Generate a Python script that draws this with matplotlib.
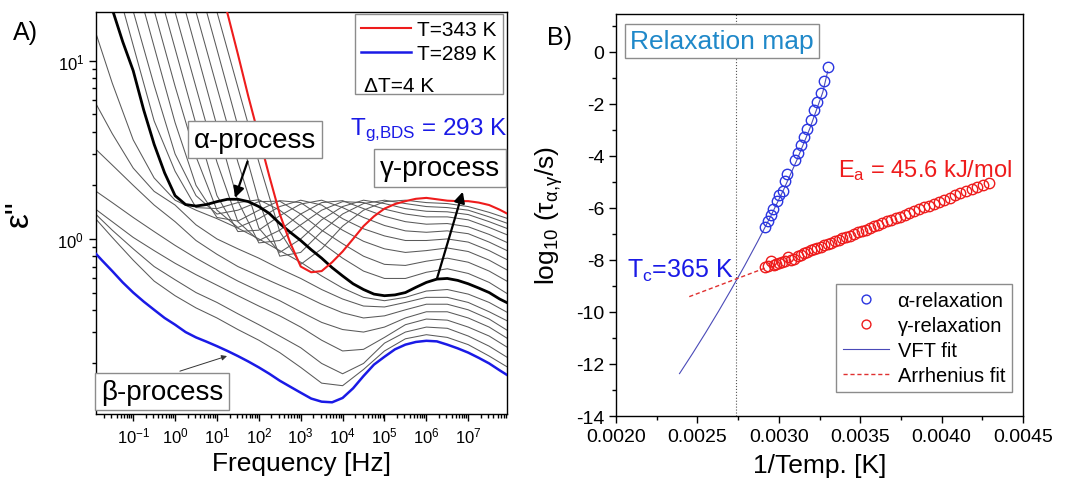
"""Dielectric loss spectra (A) and relaxation map (B)."""
import numpy as np
import matplotlib

matplotlib.use("Agg")
import matplotlib.pyplot as plt  # noqa: E402

plt.rcParams["font.family"] = ["Liberation Sans", "DejaVu Sans"]
plt.rcParams["mathtext.fontset"] = "custom"
plt.rcParams["mathtext.rm"] = "Liberation Sans"
plt.rcParams["mathtext.it"] = "Liberation Sans:italic"
plt.rcParams["mathtext.bf"] = "Liberation Sans:bold"
plt.rcParams["mathtext.default"] = "regular"
plt.rcParams["axes.unicode_minus"] = False

nan = np.nan

# ---- panel A: eps'' spectra ------------------------------------------------
# main curves, quarter-decade sampling
freq_fine = [1e-2, 1.78e-2, 3.16e-2, 5.62e-2, 1e-1, 1.78e-1, 3.16e-1, 5.62e-1,
             1e0, 1.78e0, 3.16e0, 5.62e0, 1e1, 1.78e1, 3.16e1, 5.62e1,
             1e2, 1.78e2, 3.16e2, 5.62e2, 1e3, 1.78e3, 3.16e3, 5.62e3,
             1e4, 1.78e4, 3.16e4, 5.62e4, 1e5, 1.78e5, 3.16e5, 5.62e5,
             1e6, 1.78e6, 3.16e6, 5.62e6, 1e7, 1.78e7, 3.16e7, 5.62e7, 1e8]

eps_289 = [0.88, 0.76, 0.66, 0.57, 0.50, 0.445, 0.40, 0.36,
           0.33, 0.30, 0.28, 0.265, 0.25, 0.235, 0.22, 0.205,
           0.19, 0.175, 0.16, 0.148, 0.137, 0.127, 0.122, 0.121,
           0.128, 0.145, 0.17, 0.197, 0.218, 0.24, 0.255, 0.264,
           0.268, 0.266, 0.255, 0.243, 0.23, 0.215, 0.20, 0.183, 0.168]
eps_tg = [60, 30, 19.5, 12.8, 8.8, 5.3, 3.4, 2.35,
          1.75, 1.56, 1.53, 1.56, 1.62, 1.67, 1.67, 1.62,
          1.52, 1.39, 1.22, 1.09, 0.98, 0.87, 0.78, 0.69,
          0.62, 0.56, 0.52, 0.49, 0.48, 0.485, 0.50, 0.535,
          0.57, 0.595, 0.60, 0.585, 0.56, 0.53, 0.50, 0.46, 0.43]
eps_343 = [nan, nan, nan, nan, nan, nan, nan, nan,
           nan, nan, nan, nan, 31.6, 18.5, 10.9, 6.3,
           3.77, 2.25, 1.38, 0.95, 0.70, 0.65, 0.66, 0.74,
           0.85, 1.00, 1.18, 1.34, 1.48, 1.57, 1.63, 1.68,
           1.70, 1.67, 1.64, 1.63, 1.63, 1.60, 1.55, 1.46, 1.36]

# intermediate temperatures, half-decade sampling
freq_hz = [1.26e-2, 3.16e-2, 1e-1, 3.16e-1, 1e0, 3.16e0, 1e1, 3.16e1, 1e2, 3.16e2,
           1e3, 3.16e3, 1e4, 3.16e4, 1e5, 3.16e5, 1e6, 3.16e6, 1e7, 3.16e7, 8.9e7]

eps_c7 = [1.30, 1.02, 0.76, 0.58, 0.48, 0.41, 0.36, 0.31, 0.27, 0.23, 0.19,
          0.155, 0.15, 0.185, 0.235, 0.275, 0.29, 0.28, 0.255, 0.22, 0.19]
eps_c6 = [1.38, 1.12, 0.88, 0.70, 0.59, 0.50, 0.44, 0.38, 0.33, 0.285, 0.245,
          0.20, 0.175, 0.20, 0.26, 0.30, 0.32, 0.315, 0.285, 0.25, 0.215]
eps_c5 = [1.47, 1.25, 1.02, 0.86, 0.73, 0.63, 0.55, 0.48, 0.42, 0.37, 0.32,
          0.27, 0.235, 0.24, 0.28, 0.33, 0.355, 0.35, 0.32, 0.285, 0.245]
eps_c4 = [1.86, 1.60, 1.32, 1.10, 0.92, 0.78, 0.67, 0.58, 0.51, 0.45, 0.39,
          0.34, 0.31, 0.30, 0.32, 0.36, 0.39, 0.39, 0.36, 0.32, 0.275]
eps_c3 = [3.2, 2.6, 2.0, 1.55, 1.25, 0.98, 0.82, 0.70, 0.62, 0.55, 0.49,
          0.43, 0.385, 0.36, 0.37, 0.40, 0.43, 0.43, 0.40, 0.355, 0.305]
eps_c2 = [5.8, 3.9, 2.5, 1.85, 1.55, 1.20, 1.00, 0.88, 0.78, 0.68, 0.60,
          0.52, 0.46, 0.42, 0.415, 0.44, 0.47, 0.47, 0.44, 0.39, 0.345]
eps_c1 = [14.5, 7.5, 3.6, 2.2, 1.65, 1.45, 1.30, 1.15, 1.00, 0.86, 0.74,
          0.62, 0.53, 0.47, 0.45, 0.47, 0.51, 0.52, 0.49, 0.44, 0.385]
eps_h1 = [71, 32.6, 12.2, 4.6, 2.4, 1.50, 1.48, 1.60, 1.66, 1.45, 1.18,
          0.95, 0.78, 0.66, 0.60, 0.60, 0.65, 0.68, 0.64, 0.57, 0.49]
eps_h2 = [100, 45, 19.0, 7.3, 3.0, 1.75, 1.38, 1.45, 1.62, 1.63, 1.38,
          1.12, 0.94, 0.80, 0.72, 0.71, 0.75, 0.78, 0.74, 0.66, 0.575]
eps_h3 = [nan, 85, 32, 12.0, 4.5, 2.0, 1.32, 1.26, 1.45, 1.64, 1.60,
          1.33, 1.12, 0.97, 0.88, 0.84, 0.86, 0.89, 0.85, 0.76, 0.665]
eps_h4 = [nan, 135, 51, 19.2, 7.2, 2.9, 1.45, 1.16, 1.30, 1.52, 1.65,
          1.55, 1.30, 1.14, 1.04, 0.98, 0.98, 1.00, 0.96, 0.86, 0.76]
eps_h5 = [nan, nan, 84, 31, 11.7, 4.4, 1.75, 1.10, 1.12, 1.35, 1.57,
          1.65, 1.50, 1.32, 1.19, 1.11, 1.09, 1.11, 1.07, 0.96, 0.855]
eps_h6 = [nan, nan, 132, 49, 18.8, 7.1, 2.7, 1.25, 0.98, 1.12, 1.38,
          1.60, 1.64, 1.48, 1.34, 1.25, 1.21, 1.22, 1.17, 1.06, 0.95]
eps_h7 = [nan, nan, nan, 82, 31, 11.6, 4.3, 1.63, 0.95, 0.98, 1.20,
          1.45, 1.62, 1.60, 1.47, 1.38, 1.33, 1.33, 1.28, 1.16, 1.05]
eps_h8 = [nan, nan, nan, 140, 52, 18.8, 7.1, 2.7, 1.15, 0.84, 1.00,
          1.28, 1.52, 1.65, 1.58, 1.48, 1.43, 1.42, 1.37, 1.25, 1.14]
eps_h9 = [nan, nan, nan, nan, 82, 31, 11.6, 4.3, 1.63, 0.80, 0.84,
          1.10, 1.38, 1.58, 1.65, 1.58, 1.52, 1.50, 1.45, 1.33, 1.22]
eps_h10 = [nan, nan, nan, nan, 132, 50, 18.8, 7.1, 2.7, 1.10, 0.72,
           0.88, 1.18, 1.45, 1.62, 1.65, 1.60, 1.58, 1.52, 1.41, 1.30]

gray_curves = [eps_c7, eps_c6, eps_c5, eps_c4, eps_c3, eps_c2, eps_c1,
               eps_h1, eps_h2, eps_h3, eps_h4, eps_h5, eps_h6, eps_h7,
               eps_h8, eps_h9, eps_h10]

# ---- panel B: relaxation map --------------------------------------------------
alpha_inv_t = [0.002916, 0.002932, 0.002953, 0.002967, 0.002988, 0.003002,
               0.003023, 0.003035, 0.003053, 0.003100, 0.003117, 0.003135,
               0.003156, 0.003176, 0.003199, 0.003217, 0.003234, 0.003258,
               0.003275, 0.003301]
alpha_log_tau = [-6.73, -6.51, -6.26, -6.03, -5.74, -5.51, -5.35, -4.97, -4.68,
                 -4.17, -3.87, -3.59, -3.27, -2.97, -2.63, -2.24, -1.92, -1.56,
                 -1.12, -0.58]

gamma_inv_t = [0.0029155, 0.0029326, 0.0029499, 0.0029674, 0.0029851, 0.0030030,
               0.0030211, 0.0030395, 0.0030581, 0.0030769, 0.0030960, 0.0031153,
               0.0031348, 0.0031546, 0.0031746, 0.0031949, 0.0032154, 0.0032362,
               0.0032573, 0.0032787, 0.0033003, 0.0033223, 0.0033445, 0.0033670,
               0.0033898, 0.0034130, 0.0034364, 0.0034602, 0.0034843, 0.0035088,
               0.0035336, 0.0035587, 0.0035842, 0.0036101, 0.0036364, 0.0036630,
               0.0036900, 0.0037175, 0.0037453, 0.0037736, 0.0038023, 0.0038314,
               0.0038610, 0.0038911, 0.0039216, 0.0039526, 0.0039841, 0.0040161,
               0.0040486, 0.0040816, 0.0041152, 0.0041494, 0.0041841, 0.0042194,
               0.0042553, 0.0042918]
gamma_log_tau = [-8.28, -8.22, -8.02, -8.18, -8.15, -8.12, -8.08, -8.05, -7.88,
                 -8.00, -7.95, -7.86, -7.80, -7.74, -7.68, -7.63, -7.58, -7.54,
                 -7.49, -7.43, -7.38, -7.33, -7.28, -7.22, -7.17, -7.11, -7.06,
                 -7.00, -6.94, -6.88, -6.83, -6.77, -6.71, -6.65, -6.58, -6.52,
                 -6.46, -6.40, -6.33, -6.26, -6.19, -6.12, -6.05, -5.98, -5.91,
                 -5.83, -5.76, -5.68, -5.60, -5.52, -5.44, -5.36, -5.28, -5.19,
                 -5.11, -5.04]

vft_inv_t = [0.00239, 0.00247, 0.00255, 0.00263, 0.00271, 0.00279, 0.00287,
             0.00295, 0.00303, 0.00311, 0.00319, 0.00327, 0.00330]
vft_log_tau = [-12.37, -11.60, -10.80, -9.97, -9.11, -8.22, -7.29, -6.32,
               -5.29, -4.17, -2.95, -1.55, -0.75]

arrh_inv_t = [0.00245, 0.00292]
arrh_log_tau = [-9.41, -8.30]

tc_inv_t = 1 / 365.0

BLUE = "#1a1ae6"
RED = "#ee1c1c"
BOX = dict(boxstyle="square,pad=0.2", fc="white", ec="#8c8c8c", lw=1.0)

fig = plt.figure(figsize=(10.65, 4.85), dpi=100)
ax = fig.add_axes([0.0901, 0.1443, 0.3859, 0.8289])
ax2 = fig.add_axes([0.5784, 0.1402, 0.3822, 0.8289])

# ---- A ----
for eps in gray_curves:
    ax.plot(freq_hz, eps, color="#5a5a5a", lw=0.75, zorder=2)
ax.plot(freq_fine, eps_tg, color="black", lw=2.0, zorder=4)
l_red, = ax.plot(freq_fine, eps_343, color=RED, lw=1.5, zorder=5)
l_blue, = ax.plot(freq_fine, eps_289, color=BLUE, lw=1.8, zorder=5)

ax.set_xscale("log")
ax.set_yscale("log")
ax.set_xlim(0.0129, 8.4e7)
ax.set_ylim(0.104, 18.8)
ax.xaxis.set_major_locator(matplotlib.ticker.LogLocator(base=10, numticks=15))
ax.xaxis.set_minor_locator(matplotlib.ticker.LogLocator(base=10, subs=np.arange(2, 10), numticks=15))
ax.tick_params(which="both", direction="out", top=False, right=False, width=1.0)
ax.tick_params(which="major", length=5, labelsize=12)
ax.tick_params(which="minor", length=3)
ax.set_xlabel("Frequency [Hz]", fontsize=19, labelpad=4)
ax.set_ylabel('ε"', fontsize=24, labelpad=16)

leg = ax.legend([l_red, l_blue, plt.Line2D([], [], color="none")],
                ["T=343 K", "T=289 K", " "], loc="upper right",
                bbox_to_anchor=(0.99, 0.995), borderaxespad=0, fontsize=15,
                handlelength=2.4, handletextpad=0.3, labelspacing=0.25,
                borderpad=0.3, fancybox=False, edgecolor="#8c8c8c", framealpha=1)
leg.get_frame().set_linewidth(1.0)
ax.text(0.652, 0.818, "ΔT=4 K", transform=ax.transAxes, fontsize=15, va="center", zorder=10)
ax.text(0.618, 0.697, r"T$_{g{,}BDS}$ = 293 K", transform=ax.transAxes, fontsize=17.5,
        color=BLUE, va="baseline")

ax.annotate("α-process", xy=(10 ** 1.43, 1.70), xytext=(0.387, 0.682),
            textcoords="axes fraction", ha="center", va="center", fontsize=20,
            bbox=BOX, zorder=8,
            arrowprops=dict(arrowstyle="-|>", color="black", lw=1.6,
                            mutation_scale=16, shrinkA=2, shrinkB=0))
ax.annotate("", xy=(10 ** 6.87, 1.84), xytext=(10 ** 6.25, 0.595),
            arrowprops=dict(arrowstyle="-|>", color="black", lw=1.6,
                            mutation_scale=16, shrinkA=0, shrinkB=0), zorder=8)
ax.text(0.837, 0.612, "γ-process", transform=ax.transAxes, ha="center",
        va="center", fontsize=20, bbox=BOX, zorder=8)
ax.annotate("", xy=(10 ** 1.24, 0.22), xytext=(10 ** 0.115, 0.181),
            arrowprops=dict(arrowstyle="-|>", color="#333333", lw=0.7,
                            mutation_scale=8, shrinkA=0, shrinkB=0), zorder=8)
ax.text(0.161, 0.055, "β-process", transform=ax.transAxes, ha="center",
        va="center", fontsize=20, bbox=BOX, zorder=8)

# ---- B ----
ax2.axvline(tc_inv_t, color="#555555", lw=0.8, ls=":", zorder=1)
ax2.plot(alpha_inv_t, alpha_log_tau, "o", mfc="none", mec="#2b36e0", ms=7.5,
         mew=1.0, label="α-relaxation", zorder=4)
ax2.plot(gamma_inv_t, gamma_log_tau, "o", mfc="none", mec=RED, ms=7.5,
         mew=1.0, label="γ-relaxation", zorder=4)
ax2.plot(vft_inv_t, vft_log_tau, color="#4a4ab8", lw=0.8, label="VFT fit", zorder=3)
ax2.plot(arrh_inv_t, arrh_log_tau, color="#e03030", lw=1.0, ls=(0, (3, 2)),
         label="Arrhenius fit", zorder=3)

ax2.set_xlim(0.0020, 0.0045)
ax2.set_ylim(-14, 1.46)
ax2.set_xticks(np.arange(0.0020, 0.00451, 0.0005))
ax2.set_xticks(np.arange(0.00225, 0.0045, 0.0005), minor=True)
ax2.set_xticklabels(["%.4f" % v for v in np.arange(0.0020, 0.00451, 0.0005)])
ax2.set_yticks(np.arange(-14, 1, 2))
ax2.set_yticks(np.arange(-13, 2, 2), minor=True)
ax2.tick_params(which="both", direction="out", top=False, right=False, width=1.0)
ax2.tick_params(which="major", length=5, labelsize=14)
ax2.tick_params(which="minor", length=3)
ax2.set_xlabel("1/Temp. [K]", fontsize=19, labelpad=6)
ax2.set_ylabel(r"log$_{10}$ (τ$_{α{,}γ}$/s)", fontsize=19, labelpad=8)

leg2 = ax2.legend(loc="lower right", bbox_to_anchor=(0.973, 0.06), borderaxespad=0,
                  fontsize=14.5, handlelength=2.3, handletextpad=0.4,
                  labelspacing=0.3, borderpad=0.35, markerscale=0.85,
                  fancybox=False, edgecolor="#8c8c8c", framealpha=1)
leg2.get_frame().set_linewidth(1.0)

ax2.text(0.26, 0.933, "Relaxation map", transform=ax2.transAxes, ha="center",
         va="center", fontsize=19, color="#1f88c9", bbox=BOX)
ax2.text(0.973, 0.597, r"E$_a$ = 45.6 kJ/mol", transform=ax2.transAxes,
         ha="right", va="baseline", fontsize=17, color=RED)
ax2.text(0.027, 0.346, r"T$_c$=365 K", transform=ax2.transAxes, ha="left",
         va="baseline", fontsize=18, color=BLUE)

for a in (ax, ax2):
    for s in a.spines.values():
        s.set_linewidth(1.0)

fig.text(0.012, 0.918, "A)", fontsize=18, va="baseline")
fig.text(0.514, 0.907, "B)", fontsize=18, va="baseline")

fig.savefig("out.png", dpi=100)
